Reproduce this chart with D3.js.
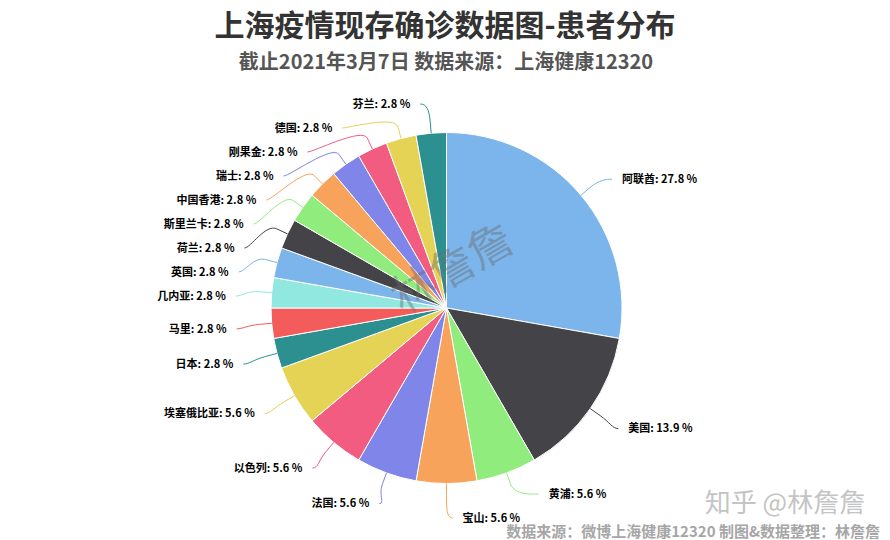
<!DOCTYPE html>
<html><head><meta charset="utf-8">
<script src="https://cdn.jsdelivr.net/npm/d3@7"></script>
<style>
html,body{margin:0;padding:0;background:#fff;}
svg{display:block;font-family:"Noto Sans CJK SC","Noto Sans",sans-serif;}
</style></head>
<body><svg id="c" width="890" height="540"></svg>
<script>
const categories = ["阿联酋","美国","黄浦","宝山","法国","以色列","埃塞俄比亚","日本","马里","几内亚","英国","荷兰","斯里兰卡","中国香港","瑞士","刚果金","德国","芬兰"];
const counts = [10,5,2,2,2,2,2,1,1,1,1,1,1,1,1,1,1,1];
const percents = ["27.8","13.9","5.6","5.6","5.6","5.6","5.6","2.8","2.8","2.8","2.8","2.8","2.8","2.8","2.8","2.8","2.8","2.8"];
const palette = ["#7cb5ec","#434348","#90ed7d","#f7a35c","#8085e9","#f15c80","#e4d354","#2b908f","#f45b5b","#91e8e1"];
const titleText = "上海疫情现存确诊数据图-患者分布";
const subtitleText = "截止2021年3月7日 数据来源：上海健康12320";
const footerText = "数据来源：微博上海健康12320 制图&数据整理：林詹詹";
const watermarkText = "林詹詹";
const zhihuText = "知乎 @林詹詹";

const svg = d3.select("#c");
const cx = 446.5, cy = 308, r = 175.5, labelR = 205;

svg.append("text").attr("x",445).attr("y",36).attr("text-anchor","middle")
  .attr("font-size",30).attr("font-weight","bold").attr("fill","#333").text(titleText);
svg.append("text").attr("x",446).attr("y",69).attr("text-anchor","middle")
  .attr("font-size",20).attr("font-weight","bold").attr("fill","#555").text(subtitleText);

const data = categories.map((c,i)=>({name:c,value:counts[i],pct:percents[i],color:palette[i%palette.length]}));
const pie = d3.pie().value(d=>d.value).sort(null);
const arcs = pie(data);
const arc = d3.arc().innerRadius(0).outerRadius(r);
const g = svg.append("g").attr("transform",`translate(${cx},${cy})`);
g.selectAll("path.slice").data(arcs).join("path").attr("class","slice")
  .attr("d",arc).attr("fill",d=>d.data.color).attr("stroke","#fff").attr("stroke-width",1);

// label layout
const labels = arcs.map(a=>{
  const mid=(a.startAngle+a.endAngle)/2;
  const left = mid > Math.PI + 1e-6;
  return {a, mid, left, ny: -labelR*Math.cos(mid) + 3};
});
const H = 24, yMin = 104 - cy, yMax = 518 - cy;
function distribute(list){
  list.sort((p,q)=>p.ny-q.ny);
  let blocks = list.map(l=>({items:[l], sum:l.ny}));
  const place = b=>{
    const n=b.items.length; let top=b.sum/n-(n-1)*H/2;
    top=Math.max(yMin,Math.min(yMax-(n-1)*H,top)); b.top=top;
  };
  blocks.forEach(place);
  let changed=true;
  while(changed){
    changed=false;
    for(let i=0;i<blocks.length-1;i++){
      const b=blocks[i], c=blocks[i+1];
      if(b.top+b.items.length*H > c.top+0.01){
        b.items=b.items.concat(c.items); b.sum+=c.sum; place(b);
        blocks.splice(i+1,1); changed=true; break;
      }
    }
  }
  blocks.forEach(b=>b.items.forEach((l,k)=>l.y=b.top+k*H));
}
distribute(labels.filter(l=>l.left));
distribute(labels.filter(l=>!l.left));

labels.forEach(l=>{
  const dy=Math.max(-labelR,Math.min(labelR,l.y));
  const dx=Math.sqrt(labelR*labelR-dy*dy);
  const sgn=l.left?-1:1;
  l.tx=sgn*(dx+16);
  const ex=r*Math.sin(l.mid), ey=-r*Math.cos(l.mid);
  const bx=(r+12)*Math.sin(l.mid), by=-(r+12)*Math.cos(l.mid);
  const sx=sgn*(dx+6);
  l.path=`M${sx},${l.y} C${sgn*dx},${l.y} ${2*bx-ex},${2*by-ey} ${bx},${by} L${ex},${ey}`;
});
g.selectAll("path.conn").data(labels).join("path").attr("class","conn")
  .attr("d",l=>l.path).attr("fill","none").attr("stroke",l=>l.a.data.color).attr("stroke-width",1);
g.selectAll("text.lbl").data(labels).join("text").attr("class","lbl")
  .attr("x",l=>l.tx).attr("y",l=>l.y).attr("dy","0.35em")
  .attr("text-anchor",l=>l.left?"end":"start")
  .attr("font-size",11).attr("font-weight","bold").attr("fill","#000")
  .attr("stroke","#fff").attr("stroke-width",2).attr("paint-order","stroke")
  .text(l=>`${l.a.data.name}: ${l.a.data.pct} %`);

// watermark
svg.append("text").attr("transform","translate(452,268) rotate(-30)")
  .attr("text-anchor","middle").attr("dy","0.35em").attr("font-size",44)
  .attr("fill","#6b6b6b").attr("fill-opacity",0.45).text(watermarkText);
svg.append("text").attr("x",785).attr("y",512).attr("text-anchor","middle")
  .attr("font-size",26).attr("fill","#c4c4c4").text(zhihuText);
svg.append("text").attr("x",880).attr("y",537).attr("text-anchor","end")
  .attr("font-size",15).attr("font-weight","bold").attr("fill","#a6a6a6").text(footerText);
</script></body></html>
